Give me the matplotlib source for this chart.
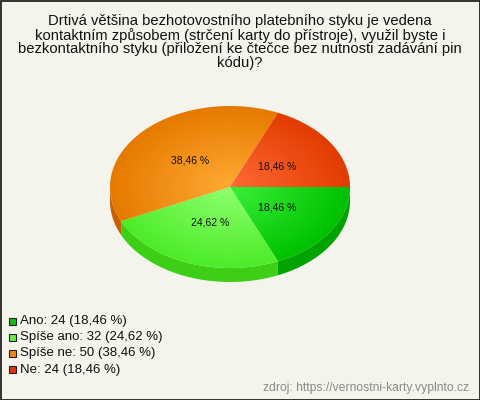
import numpy as np
import matplotlib
matplotlib.use("Agg")
import matplotlib.pyplot as plt
from matplotlib.patches import Polygon, Rectangle
from matplotlib.colors import to_rgb

plt.rcParams['font.family'] = ['Liberation Sans', 'DejaVu Sans']

# data
labels = ["Ano", "Spíše ano", "Spíše ne", "Ne"]
counts = [24, 32, 50, 24]
title = ("Drtivá většina bezhotovostního platebního styku je vedena\n"
         "kontaktním způsobem (strčení karty do přístroje), využil byste i\n"
         "bezkontaktního styku (přiložení ke čtečce bez nutnosti zadávání pin\n"
         "kódu)?")
source = "zdroj: https://vernostni-karty.vyplnto.cz"

# colours: (light centre, dark edge, side, legend)
inner_cols = ["#3af03a", "#90ff70", "#ffaa33", "#ff6a35"]
outer_cols = ["#00c000", "#4cec28", "#e67a00", "#e23c00"]
side_cols = ["#00a300", "#3ccf16", "#c86000", "#b83000"]
legend_cols = ["#11bb11", "#66ee44", "#ee8811", "#dd3311"]

fig = plt.figure(figsize=(4.8, 4), dpi=100)
fig.patch.set_facecolor("#f5f4ec")
ax = fig.add_axes([0, 0, 1, 1])
ax.set_xlim(0, 480)
ax.set_ylim(400, 0)
ax.axis("off")

# pie geometry (pixels)
cx, cy, rx, ry, depth = 230, 187, 120, 81, 14

pct = np.array(counts) / sum(counts) * 100
bounds = np.concatenate([[0], np.cumsum(pct)]) / 100 * 2 * np.pi

# side walls (only the front half is visible)
for i in range(len(counts)):
    a0, a1 = max(bounds[i], 0), min(bounds[i + 1], np.pi)
    if a1 <= a0:
        continue
    t = np.linspace(a0, a1, 80)
    xs = cx + rx * np.cos(t)
    ys = cy + ry * np.sin(t)
    pts = np.concatenate([np.column_stack([xs, ys]),
                          np.column_stack([xs[::-1], ys[::-1] + depth])])
    ax.add_patch(Polygon(pts, closed=True, facecolor=side_cols[i],
                         edgecolor="none"))

# radial gradient base
gx, gy = np.meshgrid(np.linspace(-1, 1, 300), np.linspace(-1, 1, 300))
rr = np.clip(np.sqrt(gx ** 2 + gy ** 2), 0, 1)

for i in range(len(counts)):
    t = np.linspace(bounds[i], bounds[i + 1], 120)
    pts = np.column_stack([np.concatenate([[cx], cx + rx * np.cos(t)]),
                           np.concatenate([[cy], cy + ry * np.sin(t)])])
    poly = Polygon(pts, closed=True, facecolor="none", edgecolor="none")
    ax.add_patch(poly)
    c0, c1 = np.array(to_rgb(inner_cols[i])), np.array(to_rgb(outer_cols[i]))
    img = c0[None, None, :] * (1 - rr[..., None]) + c1[None, None, :] * rr[..., None]
    im = ax.imshow(img, extent=(cx - rx, cx + rx, cy + ry, cy - ry),
                   origin="upper", interpolation="bilinear", zorder=2)
    im.set_clip_path(poly)

    mid = (bounds[i] + bounds[i + 1]) / 2
    ax.text(cx + 0.47 * rx * np.cos(mid), cy + 0.47 * ry * np.sin(mid),
            f"{pct[i]:.2f} %".replace(".", ","), ha="center", va="center",
            fontsize=7.5, color="#111111", zorder=3)

ax.set_xlim(0, 480)
ax.set_ylim(400, 0)
ax.set_aspect("auto")

# title
ax.text(240, 42, title, ha="center", va="center", fontsize=10.6,
        linespacing=0.97, color="#111111")

# legend
for i, lab in enumerate(labels):
    y = 321 + i * 16.2
    ax.add_patch(Rectangle((9, y - 3.5), 7, 7, facecolor=legend_cols[i],
                           edgecolor="#222222", linewidth=0.8))
    ax.text(20, y, f"{lab}: {counts[i]} ({pct[i]:.2f} %)".replace(".", ","),
            ha="left", va="center", fontsize=9.5, color="#111111")

ax.text(469, 388, source, ha="right", va="center", fontsize=8.7,
        color="#8a8a8a")

# frame
ax.add_patch(Rectangle((0.5, 0.5), 479, 399, facecolor="none",
                       edgecolor="#111111", linewidth=1.2, zorder=5))

fig.savefig("out.png", dpi=100, facecolor=fig.get_facecolor())
